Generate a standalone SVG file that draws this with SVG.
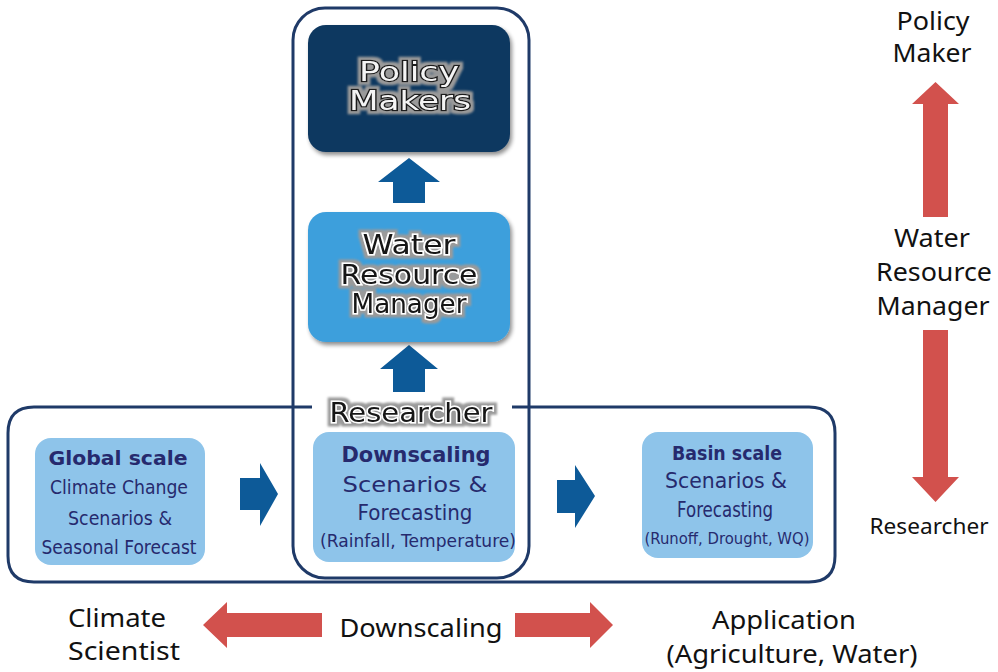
<svg xmlns="http://www.w3.org/2000/svg" width="998" height="672" viewBox="0 0 998 672">
<defs>
<style>
.frame{fill:none;stroke:#1f3a68;stroke-width:3}
.barrow{fill:#0d5a98}
.rarrow{fill:#d2514d}
.lbox{fill:#8ec4ea}
.nt{font-family:"DejaVu Sans",Verdana,sans-serif;fill:#262a6e;text-anchor:middle}
.nb{font-family:"DejaVu Sans",Verdana,sans-serif;font-weight:bold;fill:#262a6e;text-anchor:middle}
.side{font-family:"Noto Sans","Open Sans",sans-serif;font-size:25px;fill:#111;text-anchor:middle}
.outw{font-family:"DejaVu Sans",Verdana,sans-serif;font-size:26px;fill:#f4f4f4;stroke:#1a1a1a;stroke-width:2.5;paint-order:stroke;text-anchor:middle}
.outb{font-family:"DejaVu Sans",Verdana,sans-serif;font-size:26px;fill:#151515;stroke:#ffffff;stroke-width:3;paint-order:stroke;text-anchor:middle}
</style>
<filter id="sh" x="-10%" y="-10%" width="130%" height="130%">
<feGaussianBlur in="SourceAlpha" stdDeviation="2"/>
<feOffset dx="2" dy="3" result="b"/>
<feComponentTransfer><feFuncA type="linear" slope="0.45"/></feComponentTransfer>
<feMerge><feMergeNode/><feMergeNode in="SourceGraphic"/></feMerge>
</filter>
<filter id="halo" x="-10%" y="-20%" width="120%" height="140%">
<feMorphology in="SourceAlpha" operator="dilate" radius="2.5" result="d"/>
<feGaussianBlur in="d" stdDeviation="1" result="g"/>
<feFlood flood-color="#9a9a9a"/>
<feComposite in2="g" operator="in" result="h"/>
<feMerge><feMergeNode in="h"/><feMergeNode in="SourceGraphic"/></feMerge>
</filter>
</defs>
<rect width="998" height="672" fill="#ffffff"/>

<g id="frames">
<rect class="frame" x="293" y="8" width="236" height="570" rx="32" ry="32"/>
<path class="frame" d="M312,407 H34 Q8,407 8,433 V556 Q8,582 34,582 H809 Q835,582 835,556 V433 Q835,407 809,407 H512"/>
</g>

<g id="connectors">
<polygon class="barrow" points="409,158 440,182 425,182 425,203 393,203 393,182 378,182"/>
<polygon class="barrow" points="409,345 438,369 425,369 425,392 393,392 393,369 380,369"/>
<polygon class="barrow" points="240,478 260,478 260,463 278,494 260,526 260,510 240,510"/>
<polygon class="barrow" points="557,480 575,480 575,465 595,496 575,528 575,513 557,513"/>
<polygon class="rarrow" points="935.5,82 959,104 948,104 948,217 923,217 923,104 912,104"/>
<polygon class="rarrow" points="923,330 948,330 948,477 959,477 935.5,502 912,477 923,477"/>
<polygon class="rarrow" points="203,625 227,602 227,613 322,613 322,637 227,637 227,648"/>
<polygon class="rarrow" points="515,613 590,613 590,602 613,625 590,648 590,637 515,637"/>
</g>

<g id="policy-makers">
<rect x="308" y="25" width="202" height="127" rx="18" fill="#0e3760" filter="url(#sh)"/>
<g filter="url(#halo)">
<text class="outw" x="409" y="81" textLength="100" lengthAdjust="spacingAndGlyphs">Policy</text>
<text class="outw" x="410" y="110" textLength="122" lengthAdjust="spacingAndGlyphs">Makers</text>
</g>
</g>

<g id="water-resource-manager">
<rect x="308" y="212" width="202" height="130" rx="18" fill="#3e9fdc" filter="url(#sh)"/>
<g filter="url(#halo)">
<text class="outb" x="409" y="254" textLength="93" lengthAdjust="spacingAndGlyphs">Water</text>
<text class="outb" x="409" y="284" textLength="137" lengthAdjust="spacingAndGlyphs">Resource</text>
<text class="outb" x="409" y="313" textLength="115" lengthAdjust="spacingAndGlyphs">Manager</text>
</g>
</g>

<g id="researcher-label" filter="url(#halo)">
<text class="outb" x="411" y="422" style="font-size:27px" textLength="163" lengthAdjust="spacingAndGlyphs">Researcher</text>
</g>

<g id="global-scale">
<rect class="lbox" x="35" y="438" width="170" height="127" rx="16"/>
<text class="nb" x="118" y="465" font-size="20" textLength="139" lengthAdjust="spacingAndGlyphs">Global scale</text>
<text class="nt" x="119" y="494" font-size="20" textLength="138" lengthAdjust="spacingAndGlyphs">Climate Change</text>
<text class="nt" x="120" y="525" font-size="20" textLength="104" lengthAdjust="spacingAndGlyphs">Scenarios &amp;</text>
<text class="nt" x="119" y="554" font-size="20" textLength="155" lengthAdjust="spacingAndGlyphs">Seasonal Forecast</text>
</g>

<g id="downscaling">
<rect class="lbox" x="313" y="432" width="202" height="130" rx="16"/>
<text class="nb" x="416" y="462" font-size="22" textLength="149" lengthAdjust="spacingAndGlyphs">Downscaling</text>
<text class="nt" x="415" y="492" font-size="22" textLength="145" lengthAdjust="spacingAndGlyphs">Scenarios &amp;</text>
<text class="nt" x="415" y="520" font-size="22" textLength="115" lengthAdjust="spacingAndGlyphs">Forecasting</text>
<text class="nt" x="418" y="547" font-size="17" textLength="196" lengthAdjust="spacingAndGlyphs">(Rainfall, Temperature)</text>
</g>

<g id="basin-scale">
<rect class="lbox" x="642" y="432" width="171" height="126" rx="16"/>
<text class="nb" x="727" y="460" font-size="19" textLength="110" lengthAdjust="spacingAndGlyphs">Basin scale</text>
<text class="nt" x="726" y="488" font-size="21" textLength="122" lengthAdjust="spacingAndGlyphs">Scenarios &amp;</text>
<text class="nt" x="725" y="517" font-size="21" textLength="96" lengthAdjust="spacingAndGlyphs">Forecasting</text>
<text class="nt" x="727" y="544" font-size="16" textLength="165" lengthAdjust="spacingAndGlyphs">(Runoff, Drought, WQ)</text>
</g>

<g id="side-policy-maker">
<text class="side" x="933" y="30" textLength="73" lengthAdjust="spacingAndGlyphs">Policy</text>
<text class="side" x="932" y="62" textLength="79" lengthAdjust="spacingAndGlyphs">Maker</text>
</g>
<g id="side-water-resource-manager">
<text class="side" x="932" y="247" textLength="76" lengthAdjust="spacingAndGlyphs">Water</text>
<text class="side" x="934" y="281" textLength="116" lengthAdjust="spacingAndGlyphs">Resource</text>
<text class="side" x="933" y="315" textLength="113" lengthAdjust="spacingAndGlyphs">Manager</text>
</g>
<g id="side-researcher">
<text class="side" x="929" y="534" style="font-size:22px" textLength="119" lengthAdjust="spacingAndGlyphs">Researcher</text>
</g>
<g id="climate-scientist">
<text class="side" x="117" y="627" textLength="98" lengthAdjust="spacingAndGlyphs">Climate</text>
<text class="side" x="124" y="660" textLength="112" lengthAdjust="spacingAndGlyphs">Scientist</text>
</g>
<g id="downscaling-label">
<text class="side" x="421" y="637" textLength="163" lengthAdjust="spacingAndGlyphs">Downscaling</text>
</g>
<g id="application">
<text class="side" x="784" y="629" textLength="144" lengthAdjust="spacingAndGlyphs">Application</text>
<text class="side" x="792" y="663" textLength="251" lengthAdjust="spacingAndGlyphs">(Agriculture, Water)</text>
</g>
</svg>
